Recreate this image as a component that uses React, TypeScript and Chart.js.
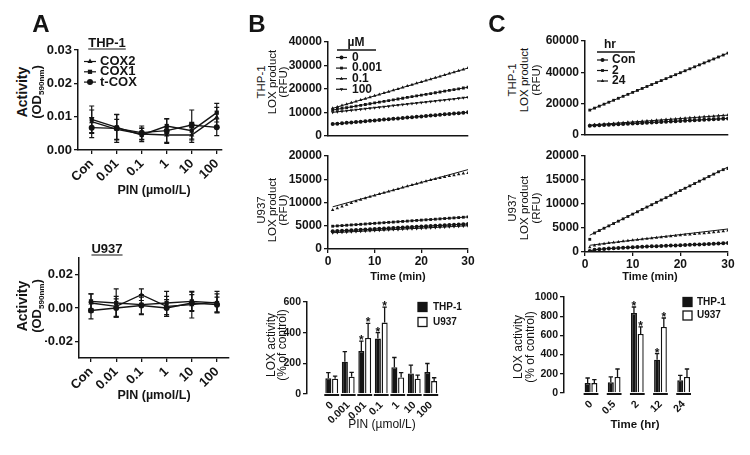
import React, { useEffect, useRef } from "react";
import { Chart, registerables } from "chart.js";
import { drawPoint } from "chart.js/helpers";
Chart.register(...registerables);

const FONT = "'Liberation Sans', Arial, sans-serif";
const INK = "#141414";

// ---------------- Panel A data ----------------
const doseLabelsA = ["Con", "0.01", "0.1", "1", "10", "100"];
const thpCox2 = [0.0085, 0.0062, 0.0048, 0.0045, 0.0045, 0.0098];
const thpCox2Err = [0.0035, 0.003, 0.0018, 0.0025, 0.0022, 0.003];
const thpCox1 = [0.0092, 0.0068, 0.0045, 0.0072, 0.0058, 0.0112];
const thpCox1Err = [0.004, 0.0038, 0.002, 0.0022, 0.0025, 0.0028];
const thpTcox = [0.0067, 0.0065, 0.0052, 0.0058, 0.0075, 0.0068];
const thpTcoxErr = [0.003, 0.0042, 0.002, 0.0035, 0.0045, 0.0025];

const u937Cox2 = [0.003, 0.001, 0.008, 0.001, 0.002, 0.0035];
const u937Cox2Err = [0.0055, 0.006, 0.0035, 0.006, 0.008, 0.0065];
const u937Cox1 = [0.004, 0.003, 0.002, 0.003, 0.004, 0.003];
const u937Cox1Err = [0.0045, 0.0085, 0.006, 0.007, 0.0055, 0.0055];
const u937Tcox = [-0.0015, 0.0, 0.0015, 0.0, 0.003, 0.002];
const u937TcoxErr = [0.005, 0.0055, 0.005, 0.005, 0.005, 0.0045];

const thpActTicks = [0, 0.01, 0.02, 0.03];
const u937ActTicks = [-0.02, 0, 0.02];

// ---------------- Panel B / C kinetics ----------------
const minutes = [1, 2, 3, 4, 5, 6, 7, 8, 9, 10, 11, 12, 13, 14, 15, 16, 17, 18, 19, 20, 21, 22, 23, 24, 25, 26, 27, 28, 29, 30];

const bThp0 = [5000, 5170, 5340, 5520, 5690, 5860, 6030, 6210, 6380, 6550, 6720, 6900, 7070, 7240, 7410, 7590, 7760, 7930, 8100, 8280, 8450, 8620, 8790, 8970, 9140, 9310, 9480, 9660, 9830, 10000];
const bThp0001 = [11000, 11330, 11670, 12000, 12340, 12670, 13010, 13340, 13680, 14010, 14340, 14680, 15010, 15350, 15680, 16020, 16350, 16690, 17020, 17360, 17690, 18020, 18360, 18690, 19030, 19360, 19700, 20030, 20370, 20700];
const bThp01 = [11700, 12290, 12890, 13480, 14070, 14670, 15260, 15850, 16440, 17040, 17630, 18220, 18820, 19410, 20000, 20600, 21190, 21780, 22380, 22970, 23560, 24160, 24750, 25340, 25930, 26530, 27120, 27710, 28310, 28900];
const bThp100 = [10000, 10220, 10440, 10660, 10880, 11100, 11320, 11540, 11770, 11990, 12210, 12430, 12650, 12870, 13090, 13310, 13530, 13750, 13970, 14190, 14410, 14630, 14860, 15080, 15300, 15520, 15740, 15960, 16180, 16400];

const bU0 = [3800, 3860, 3910, 3970, 4020, 4080, 4130, 4190, 4240, 4300, 4350, 4410, 4460, 4520, 4570, 4630, 4680, 4740, 4790, 4850, 4900, 4960, 5010, 5070, 5120, 5180, 5230, 5290, 5340, 5400];
const bU0001 = [4900, 4970, 5040, 5110, 5180, 5240, 5310, 5380, 5450, 5520, 5590, 5660, 5730, 5790, 5860, 5930, 6000, 6070, 6140, 6210, 6280, 6340, 6410, 6480, 6550, 6620, 6690, 6760, 6830, 6900];
const bU01 = [8370, 8770, 9150, 9530, 9890, 10250, 10590, 10910, 11230, 11530, 11830, 12110, 12380, 12660, 12930, 13210, 13490, 13760, 14040, 14310, 14570, 14820, 15050, 15280, 15490, 15690, 15880, 16050, 16220, 16370];
const bU01Fit = [9070, 17070];
const bU100 = [3500, 3550, 3600, 3660, 3710, 3760, 3810, 3860, 3910, 3970, 4020, 4070, 4120, 4170, 4220, 4280, 4330, 4380, 4430, 4480, 4530, 4590, 4640, 4690, 4740, 4790, 4840, 4900, 4950, 5000];

const cThpCon = [5900, 6060, 6220, 6390, 6550, 6710, 6870, 7030, 7200, 7360, 7520, 7680, 7840, 8010, 8170, 8330, 8490, 8650, 8820, 8980, 9140, 9300, 9460, 9630, 9790, 9950, 10110, 10270, 10440, 10600];
const cThp2 = [15900, 17160, 18410, 19670, 20920, 22180, 23430, 24690, 25940, 27200, 28450, 29710, 30960, 32220, 33470, 34730, 35980, 37240, 38490, 39750, 41000, 42260, 43510, 44770, 46020, 47280, 48530, 49790, 51040, 52300];
const cThp24 = [6300, 6520, 6740, 6960, 7180, 7400, 7620, 7850, 8070, 8290, 8510, 8730, 8950, 9170, 9390, 9610, 9830, 10050, 10270, 10500, 10720, 10940, 11160, 11380, 11600, 11820, 12040, 12260, 12480, 12700];

const cUCon = [200, 450, 560, 640, 710, 770, 830, 890, 940, 990, 1040, 1090, 1140, 1180, 1220, 1260, 1300, 1340, 1380, 1420, 1460, 1500, 1540, 1580, 1620, 1660, 1700, 1750, 1820, 1900];
const cU2 = [2640, 3950, 4460, 4950, 5440, 5930, 6420, 6910, 7400, 7890, 8380, 8870, 9360, 9850, 10340, 10830, 11320, 11810, 12300, 12790, 13280, 13770, 14260, 14750, 15240, 15730, 16220, 16710, 17150, 17400];
const cU2Fit = [3500, 17700];
const cU24 = [1000, 1350, 1550, 1700, 1850, 1980, 2100, 2220, 2340, 2450, 2560, 2670, 2780, 2880, 2980, 3080, 3180, 3280, 3380, 3480, 3570, 3660, 3750, 3840, 3930, 4020, 4110, 4200, 4330, 4500];
const cU24Fit = [1400, 4800];
const fitEnds = [1, 30];

const timeTicks = [0, 10, 20, 30];
const thpRfuTicksB = [0, 10000, 20000, 30000, 40000];
const uRfuTicks = [0, 5000, 10000, 15000, 20000];
const thpRfuTicksC = [0, 20000, 40000, 60000];

// ---------------- Bar charts ----------------
const doseLabelsB = ["0", "0.001", "0.01", "0.1", "1", "10", "100"];
const bBarThp = [102, 211, 280, 362, 175, 134, 143];
const bBarThpErr = [37, 65, 65, 38, 63, 54, 56];
const bBarThpStar = [false, false, true, true, false, false, false];
const bBarU = [100, 113, 366, 466, 108, 100, 84];
const bBarUErr = [17, 28, 94, 101, 31, 23, 22];
const bBarUStar = [false, false, true, true, false, false, false];
const bBarTicks = [0, 200, 400, 600];

const timeLabelsC = ["0", "0.5", "2", "12", "24"];
const cBarThp = [104, 111, 833, 347, 132];
const cBarThpErr = [52, 56, 63, 63, 52];
const cBarThpStar = [false, false, true, true, false];
const cBarU = [104, 167, 615, 688, 167];
const cBarUErr = [35, 83, 73, 93, 83];
const cBarUStar = [false, false, true, true, false];
const cBarTicks = [0, 200, 400, 600, 800, 1000];

// ---------------- helpers ----------------
type Box = { L: number; T: number; W: number; H: number };
type Area = { x0: number; x1: number; y0: number; y1: number };

function frame(box: Box, area: Area) {
  return {
    padding: { top: area.y0 - box.T, right: box.L + box.W - area.x1, left: 0, bottom: 0 },
    yW: area.x0 - box.L,
    xH: box.T + box.H - area.y1,
  };
}

const toXY = (ys: number[], xs?: number[]) => ys.map((y, i) => ({ x: xs ? xs[i] : i, y }));

const errorBars = {
  id: "errorBars",
  afterDatasetsDraw(chart: any) {
    const ctx = chart.ctx;
    chart.data.datasets.forEach((ds: any, di: number) => {
      if (!ds.errors) return;
      const meta = chart.getDatasetMeta(di);
      const ys = chart.scales[meta.yAxisID];
      ctx.save();
      ctx.strokeStyle = INK;
      ctx.fillStyle = INK;
      ctx.lineWidth = ds.errorWidth || 1.3;
      const cap = ds.capHalf || 2.5;
      meta.data.forEach((el: any, i: number) => {
        const raw = ds.data[i];
        const v = typeof raw === "number" ? raw : raw.y;
        const e = ds.errors[i];
        const x = el.x;
        const top = ys.getPixelForValue(v + e);
        const bot = ds.upOnly ? el.y : ys.getPixelForValue(v - e);
        ctx.beginPath();
        ctx.moveTo(x, bot);
        ctx.lineTo(x, top);
        ctx.moveTo(x - cap, top);
        ctx.lineTo(x + cap, top);
        if (!ds.upOnly) {
          ctx.moveTo(x - cap, bot);
          ctx.lineTo(x + cap, bot);
        }
        ctx.stroke();
        if (ds.stars && ds.stars[i]) {
          ctx.font = `bold 12px ${FONT}`;
          ctx.textAlign = "center";
          ctx.textBaseline = "alphabetic";
          ctx.fillText("*", x, top + 3);
        }
      });
      ctx.restore();
    });
  },
};

const groupAxis = {
  id: "groupAxis",
  afterDatasetsDraw(chart: any) {
    const metas = chart.data.datasets.map((_: any, i: number) => chart.getDatasetMeta(i));
    const n = metas[0].data.length;
    const ctx = chart.ctx;
    const y = chart.chartArea.bottom + 1;
    ctx.save();
    ctx.strokeStyle = INK;
    ctx.lineWidth = 2;
    for (let i = 0; i < n; i++) {
      let a = Infinity;
      let b = -Infinity;
      metas.forEach((m: any) => {
        const el = m.data[i];
        a = Math.min(a, el.x - el.width / 2);
        b = Math.max(b, el.x + el.width / 2);
      });
      ctx.beginPath();
      ctx.moveTo(a - 1, y);
      ctx.lineTo(b + 1, y);
      ctx.stroke();
    }
    ctx.restore();
  },
};

const insetLegend = {
  id: "insetLegend",
  afterDraw(chart: any, _a: any, o: any) {
    if (!o || o.y0 === undefined) return;
    const ctx = chart.ctx;
    const ox = o.ox, oy = o.oy;
    ctx.save();
    ctx.fillStyle = INK;
    ctx.strokeStyle = INK;
    ctx.font = o.font;
    ctx.textBaseline = "middle";
    if (o.title) {
      ctx.textAlign = "center";
      ctx.fillText(o.title, o.titleX - ox, o.titleY - oy);
      ctx.lineWidth = 1.3;
      ctx.beginPath();
      ctx.moveTo(o.ulX0 - ox, o.ulY - oy);
      ctx.lineTo(o.ulX1 - ox, o.ulY - oy);
      ctx.stroke();
    }
    const items = chart.data.datasets.filter((d: any) => !d.noLegend);
    items.forEach((ds: any, i: number) => {
      const y = o.y0 + i * o.dy - oy;
      const x0 = o.mx0 - ox;
      const x1 = o.mx1 - ox;
      if (o.kind === "box") {
        ctx.fillStyle = ds.backgroundColor;
        ctx.fillRect(x0, y - o.bh / 2, x1 - x0, o.bh);
        ctx.lineWidth = 1.3;
        ctx.strokeStyle = INK;
        ctx.strokeRect(x0, y - o.bh / 2, x1 - x0, o.bh);
      } else {
        ctx.lineWidth = 1.2;
        ctx.beginPath();
        ctx.moveTo(x0, y);
        ctx.lineTo(x1, y);
        ctx.stroke();
        ctx.fillStyle = INK;
        drawPoint(ctx, { pointStyle: ds.pointStyle, rotation: ds.pointRotation || 0, radius: ds.pointRadius, borderWidth: 0 } as any, (x0 + x1) / 2, y);
      }
      ctx.fillStyle = INK;
      ctx.textAlign = "left";
      ctx.fillText(ds.label, o.tx - ox, y);
    });
    ctx.restore();
  },
};

function yAxis(f: any, min: number, max: number, ticks: number[], size: number, fmt: (v: number) => string) {
  return {
    type: "linear",
    position: "left",
    min,
    max,
    afterFit: (s: any) => {
      s.width = f.yW;
    },
    afterBuildTicks: (s: any) => {
      s.ticks = ticks.map((v) => ({ value: v }));
    },
    ticks: { color: INK, font: { family: FONT, size, weight: "bold" }, padding: 2, callback: (v: any) => fmt(Number(v)) },
    grid: { display: true, drawOnChartArea: false, drawTicks: true, tickLength: 4, color: INK, lineWidth: 1.3 },
    border: { display: true, color: INK, width: 1.5 },
  };
}

function xCatAxis(f: any, min: number, max: number, labels: string[], size: number, withLine: boolean) {
  return {
    type: "linear",
    position: "bottom",
    min,
    max,
    afterFit: (s: any) => {
      s.height = f.xH;
    },
    afterBuildTicks: (s: any) => {
      s.ticks = labels.map((_, i) => ({ value: i }));
    },
    ticks: {
      autoSkip: false,
      minRotation: 45,
      maxRotation: 45,
      color: INK,
      padding: withLine ? 2 : 5,
      font: { family: FONT, size, weight: "bold" },
      callback: (v: any) => labels[Number(v)],
    },
    grid: withLine
      ? { display: true, drawOnChartArea: false, drawTicks: true, tickLength: 4, color: INK, lineWidth: 1.3 }
      : { display: false, drawTicks: false },
    border: { display: withLine, color: INK, width: 1.5 },
  };
}

function xTimeAxis(f: any, showTicks: boolean) {
  return {
    type: "linear",
    position: "bottom",
    min: 0,
    max: 30,
    afterFit: (s: any) => {
      s.height = f.xH;
    },
    afterBuildTicks: (s: any) => {
      s.ticks = timeTicks.map((v) => ({ value: v }));
    },
    ticks: {
      display: showTicks,
      color: INK,
      padding: 1,
      maxRotation: 0,
      font: { family: FONT, size: 12, weight: "bold" },
      callback: (v: any) => String(v),
    },
    grid: { display: showTicks, drawOnChartArea: false, drawTicks: showTicks, tickLength: 4, color: INK, lineWidth: 1.3 },
    border: { display: true, color: INK, width: 1.5 },
  };
}

function baseOptions(f: any, scales: any, legendOpts: any) {
  return {
    responsive: false,
    maintainAspectRatio: false,
    animation: false,
    devicePixelRatio: 1,
    events: [],
    layout: { padding: f.padding },
    plugins: { legend: { display: false }, tooltip: { enabled: false }, title: { display: false }, insetLegend: legendOpts || {} },
    scales,
  };
}

function lineDs(label: string, ys: number[], xs: number[] | undefined, style: string, extra: any = {}) {
  return {
    label,
    data: toXY(ys, xs),
    borderColor: INK,
    backgroundColor: INK,
    pointBackgroundColor: INK,
    pointBorderWidth: 0,
    pointStyle: style,
    pointRadius: 2,
    borderWidth: 1,
    ...extra,
  };
}

function fitDs(ends: number[]) {
  return {
    label: "fit",
    noLegend: true,
    data: toXY(ends, fitEnds),
    borderColor: INK,
    borderWidth: 1,
    pointRadius: 0,
  };
}

// ---------------- configs ----------------
const boxA1: Box = { L: 45, T: 30, W: 200, H: 172 };
const areaA1: Area = { x0: 78, x1: 222, y0: 50, y1: 150 };
const boxA2: Box = { L: 45, T: 240, W: 205, H: 172 };
const areaA2: Area = { x0: 79, x1: 229, y0: 258, y1: 358 };
const boxB1: Box = { L: 288, T: 28, W: 200, H: 117 };
const areaB1: Area = { x0: 328, x1: 468, y0: 42, y1: 136 };
const boxB2: Box = { L: 288, T: 145, W: 200, H: 125 };
const areaB2: Area = { x0: 328, x1: 468, y0: 156, y1: 249 };
const boxB3: Box = { L: 270, T: 285, W: 215, H: 140 };
const areaB3: Area = { x0: 307, x1: 449, y0: 302, y1: 394 };
const boxC1: Box = { L: 535, T: 28, W: 210, H: 117 };
const areaC1: Area = { x0: 585, x1: 728, y0: 41, y1: 135 };
const boxC2: Box = { L: 535, T: 145, W: 210, H: 125 };
const areaC2: Area = { x0: 585, x1: 728, y0: 156, y1: 252 };
const boxC3: Box = { L: 520, T: 285, W: 228, H: 140 };
const areaC3: Area = { x0: 564, x1: 709, y0: 297, y1: 393 };

const fmt2 = (v: number) => v.toFixed(2);
const fmtInt = (v: number) => String(Math.round(v));

function cfgA(box: Box, area: Area, series: number[][], errs: number[][], ticks: number[], ymin: number, ymax: number, xmin: number, xmax: number, legend: boolean) {
  const f = frame(box, area);
  const names = ["COX2", "COX1", "t-COX"];
  const styles = ["triangle", "rect", "circle"];
  return {
    type: "line",
    data: {
      datasets: series.map((s, k) =>
        lineDs(names[k], s, undefined, styles[k], { errors: errs[k], pointRadius: 3, borderWidth: 1.4, capHalf: 2.5, errorWidth: 1.2 })
      ),
    },
    options: baseOptions(
      f,
      { x: xCatAxis(f, xmin, xmax, doseLabelsA, 13, true), y: yAxis(f, ymin, ymax, ticks, 13, fmt2) },
      legend ? { ox: box.L, oy: box.T, font: `bold 13px ${FONT}`, y0: 61.5, dy: 10.3, mx0: 84, mx1: 96, tx: 100 } : {}
    ),
    plugins: [errorBars, insetLegend],
  };
}

const cfgA1 = () => cfgA(boxA1, areaA1, [thpCox2, thpCox1, thpTcox], [thpCox2Err, thpCox1Err, thpTcoxErr], thpActTicks, 0, 0.03, -0.548, 5.21, true);
const cfgA2 = () => cfgA(boxA2, areaA2, [u937Cox2, u937Cox1, u937Tcox], [u937Cox2Err, u937Cox1Err, u937TcoxErr], u937ActTicks, -0.03, 0.03, -0.476, 5.476, false);

const cfgB1 = () => {
  const f = frame(boxB1, areaB1);
  return {
    type: "line",
    data: {
      datasets: [
        lineDs("0", bThp0, minutes, "circle"),
        lineDs("0.001", bThp0001, minutes, "rect"),
        lineDs("0.1", bThp01, minutes, "triangle"),
        lineDs("100", bThp100, minutes, "triangle", { pointRotation: 180 }),
      ],
    },
    options: baseOptions(
      f,
      { x: xTimeAxis(f, false), y: yAxis(f, 0, 40000, thpRfuTicksB, 12, fmtInt) },
      { ox: boxB1.L, oy: boxB1.T, font: `bold 12px ${FONT}`, title: "µM", titleX: 356, titleY: 43, ulX0: 337, ulX1: 376, ulY: 50, y0: 57.5, dy: 10.6, mx0: 336, mx1: 347, tx: 352 }
    ),
    plugins: [insetLegend],
  };
};

const cfgB2 = () => {
  const f = frame(boxB2, areaB2);
  return {
    type: "line",
    data: {
      datasets: [
        lineDs("0", bU0, minutes, "circle"),
        lineDs("0.001", bU0001, minutes, "rect"),
        lineDs("0.1", bU01, minutes, "triangle", { showLine: false }),
        lineDs("100", bU100, minutes, "triangle", { pointRotation: 180 }),
        fitDs(bU01Fit),
      ],
    },
    options: baseOptions(f, { x: xTimeAxis(f, true), y: yAxis(f, 0, 20000, uRfuTicks, 12, fmtInt) }, null),
    plugins: [],
  };
};

const cfgC1 = () => {
  const f = frame(boxC1, areaC1);
  return {
    type: "line",
    data: {
      datasets: [
        lineDs("Con", cThpCon, minutes, "circle"),
        lineDs("2", cThp2, minutes, "rect"),
        lineDs("24", cThp24, minutes, "triangle"),
      ],
    },
    options: baseOptions(
      f,
      { x: xTimeAxis(f, false), y: yAxis(f, 0, 60000, thpRfuTicksC, 12, fmtInt) },
      { ox: boxC1.L, oy: boxC1.T, font: `bold 12px ${FONT}`, title: "hr", titleX: 610, titleY: 45, ulX0: 597, ulX1: 635, ulY: 52, y0: 60, dy: 10.5, mx0: 597, mx1: 608, tx: 612 }
    ),
    plugins: [insetLegend],
  };
};

const cfgC2 = () => {
  const f = frame(boxC2, areaC2);
  return {
    type: "line",
    data: {
      datasets: [
        lineDs("Con", cUCon, minutes, "circle"),
        lineDs("2", cU2, minutes, "rect", { showLine: false }),
        lineDs("24", cU24, minutes, "triangle", { showLine: false }),
        fitDs(cU2Fit),
        fitDs(cU24Fit),
      ],
    },
    options: baseOptions(f, { x: xTimeAxis(f, true), y: yAxis(f, 0, 20000, uRfuTicks, 12, fmtInt) }, null),
    plugins: [],
  };
};

function cfgBar(box: Box, area: Area, labels: string[], thp: number[], thpErr: number[], thpStar: boolean[], u: number[], uErr: number[], uStar: boolean[], ticks: number[], ymax: number, xmin: number, xmax: number, catPct: number, legend: any) {
  const f = frame(box, area);
  const common = { categoryPercentage: catPct, barPercentage: 0.9, borderColor: INK, borderWidth: 1.4, upOnly: true, capHalf: 2.2, errorWidth: 1.3 };
  return {
    type: "bar",
    data: {
      datasets: [
        { label: "THP-1", data: toXY(thp), backgroundColor: INK, errors: thpErr, stars: thpStar, ...common },
        { label: "U937", data: toXY(u), backgroundColor: "#ffffff", errors: uErr, stars: uStar, ...common },
      ],
    },
    options: baseOptions(f, { x: xCatAxis(f, xmin, xmax, labels, 10.5, false), y: yAxis(f, 0, ymax, ticks, 10.5, fmtInt) }, { ox: box.L, oy: box.T, kind: "box", bh: 9, font: `bold 10px ${FONT}`, ...legend }),
    plugins: [errorBars, groupAxis, insetLegend],
  };
}

const cfgB3 = () =>
  cfgBar(boxB3, areaB3, doseLabelsB, bBarThp, bBarThpErr, bBarThpStar, bBarU, bBarUErr, bBarUStar, bBarTicks, 600, -0.883, 6.49, 0.82, { y0: 307, dy: 15, mx0: 418, mx1: 427, tx: 433 });
const cfgC3 = () =>
  cfgBar(boxC3, areaC3, timeLabelsC, cBarThp, cBarThpErr, cBarThpStar, cBarU, cBarUErr, cBarUStar, cBarTicks, 1000, -0.54, 4.47, 0.58, { y0: 302, dy: 13.5, mx0: 683, mx1: 692, tx: 697 });

// ---------------- components ----------------
function ChartBox({ box, make }: { box: Box; make: () => any }) {
  const ref = useRef<HTMLCanvasElement>(null);
  useEffect(() => {
    const chart = new Chart(ref.current as HTMLCanvasElement, make());
    return () => chart.destroy();
  }, []);
  return (
    <div style={{ position: "absolute", left: box.L, top: box.T, width: box.W, height: box.H }}>
      <canvas ref={ref} width={box.W} height={box.H} style={{ width: box.W, height: box.H, display: "block" }} />
    </div>
  );
}

function Txt({ x, y, size, weight = "normal", rot = 0, underline = false, children }: any) {
  return (
    <div
      style={{
        position: "absolute",
        left: x,
        top: y,
        transform: `translate(-50%, -50%) rotate(${rot}deg)`,
        fontFamily: FONT,
        fontSize: size,
        fontWeight: weight,
        lineHeight: 1,
        whiteSpace: "nowrap",
        color: INK,
        textDecoration: underline ? "underline" : "none",
        textUnderlineOffset: 2,
      }}
    >
      {children}
    </div>
  );
}

const OD = () => (
  <span>
    (OD<span style={{ fontSize: "0.62em", verticalAlign: "-0.3em" }}>590nm</span>)
  </span>
);

export default function App() {
  return (
    <div style={{ position: "fixed", left: 0, top: 0, width: 750, height: 455, background: "#fff", overflow: "hidden" }}>
      <ChartBox box={boxA1} make={cfgA1} />
      <ChartBox box={boxA2} make={cfgA2} />
      <ChartBox box={boxB1} make={cfgB1} />
      <ChartBox box={boxB2} make={cfgB2} />
      <ChartBox box={boxB3} make={cfgB3} />
      <ChartBox box={boxC1} make={cfgC1} />
      <ChartBox box={boxC2} make={cfgC2} />
      <ChartBox box={boxC3} make={cfgC3} />

      <Txt x={41} y={23.5} size={24} weight="bold">A</Txt>
      <Txt x={257} y={23.5} size={24} weight="bold">B</Txt>
      <Txt x={497} y={23.5} size={24} weight="bold">C</Txt>

      <Txt x={107} y={42} size={13} weight="bold" underline>THP-1</Txt>
      <Txt x={107} y={248} size={13} weight="bold" underline>U937</Txt>
      <Txt x={22} y={92} size={14} weight="bold" rot={-90}>Activity</Txt>
      <Txt x={38} y={92} size={13} weight="bold" rot={-90}><OD /></Txt>
      <Txt x={22} y={306} size={14} weight="bold" rot={-90}>Activity</Txt>
      <Txt x={38} y={306} size={13} weight="bold" rot={-90}><OD /></Txt>
      <Txt x={154} y={190} size={12.5} weight="bold">PIN (µmol/L)</Txt>
      <Txt x={154} y={395} size={12.5} weight="bold">PIN (µmol/L)</Txt>

      <Txt x={262} y={82} size={11.5} rot={-90}>THP-1</Txt>
      <Txt x={273} y={82} size={11.5} rot={-90}>LOX product</Txt>
      <Txt x={284} y={82} size={11.5} rot={-90}>(RFU)</Txt>
      <Txt x={262} y={210} size={11.5} rot={-90}>U937</Txt>
      <Txt x={273} y={210} size={11.5} rot={-90}>LOX product</Txt>
      <Txt x={284} y={210} size={11.5} rot={-90}>(RFU)</Txt>
      <Txt x={398} y={276} size={11} weight="bold">Time (min)</Txt>
      <Txt x={271} y={345} size={12} rot={-90}>LOX activity</Txt>
      <Txt x={282} y={345} size={12} rot={-90}>(% of control)</Txt>
      <Txt x={382} y={424} size={12}>PIN (µmol/L)</Txt>

      <Txt x={513} y={80} size={11.5} rot={-90}>THP-1</Txt>
      <Txt x={525} y={80} size={11.5} rot={-90}>LOX product</Txt>
      <Txt x={537} y={80} size={11.5} rot={-90}>(RFU)</Txt>
      <Txt x={513} y={208} size={11.5} rot={-90}>U937</Txt>
      <Txt x={525} y={208} size={11.5} rot={-90}>LOX product</Txt>
      <Txt x={537} y={208} size={11.5} rot={-90}>(RFU)</Txt>
      <Txt x={650} y={276} size={11} weight="bold">Time (min)</Txt>
      <Txt x={518} y={347} size={12} rot={-90}>LOX activity</Txt>
      <Txt x={530} y={347} size={12} rot={-90}>(% of control)</Txt>
      <Txt x={635} y={425} size={11.5} weight="bold">Time (hr)</Txt>
    </div>
  );
}
